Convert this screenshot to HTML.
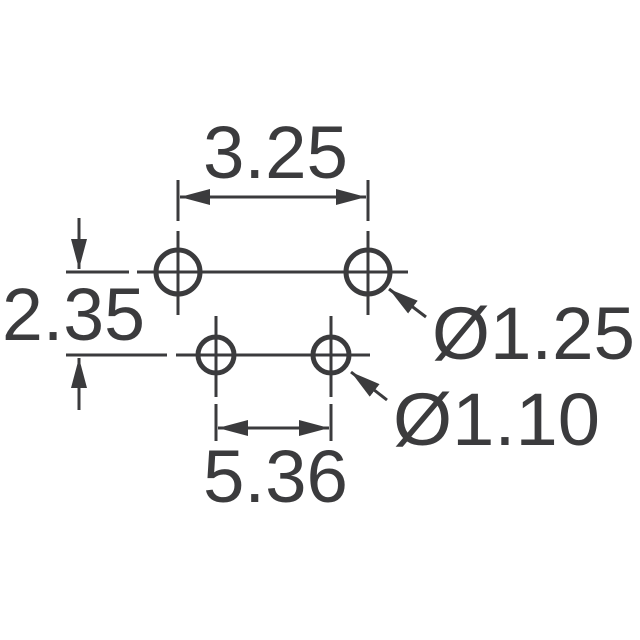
<!DOCTYPE html>
<html><head><meta charset="utf-8"><style>
html,body{margin:0;padding:0;background:#fff;}
svg{display:block;}
text{font-family:"Liberation Sans",Arial,sans-serif;font-size:74px;fill:#3b3b3d;}
</style></head><body>
<svg width="640" height="640" viewBox="0 0 640 640" xmlns="http://www.w3.org/2000/svg">
<defs>
<marker id="b" viewBox="0 0 30 16" refX="30" refY="8" markerWidth="30" markerHeight="16" markerUnits="userSpaceOnUse" orient="auto-start-reverse">
<path d="M0,0 L30,8 L0,16 z" fill="#3b3b3d"/></marker>
</defs>
<g stroke="#3b3b3d" stroke-width="3" fill="none">
<line x1="137" y1="272" x2="408" y2="272"/>
<line x1="66" y1="272" x2="129" y2="272"/>
<line x1="178" y1="180" x2="178" y2="221"/>
<line x1="178" y1="231" x2="178" y2="315"/>
<line x1="368" y1="180" x2="368" y2="221"/>
<line x1="368" y1="231" x2="368" y2="315"/>
<circle cx="178" cy="272" r="22" stroke-width="5"/>
<circle cx="368" cy="272" r="22" stroke-width="5"/>
<line x1="180" y1="197" x2="366" y2="197" marker-start="url(#b)" marker-end="url(#b)"/>
<line x1="176" y1="355" x2="370" y2="355"/>
<line x1="66" y1="355" x2="167" y2="355"/>
<line x1="216" y1="316" x2="216" y2="397"/>
<line x1="216" y1="404" x2="216" y2="441"/>
<line x1="331" y1="316" x2="331" y2="397"/>
<line x1="331" y1="404" x2="331" y2="441"/>
<circle cx="216" cy="355" r="18" stroke-width="5"/>
<circle cx="331" cy="355" r="18" stroke-width="5"/>
<line x1="218" y1="428" x2="329" y2="428" marker-start="url(#b)" marker-end="url(#b)"/>
<line x1="79" y1="218" x2="79" y2="269" marker-end="url(#b)"/>
<line x1="79" y1="410" x2="79" y2="358" marker-end="url(#b)"/>
<line x1="426" y1="317" x2="389" y2="289" marker-end="url(#b)"/>
<line x1="387" y1="400" x2="351" y2="372" marker-end="url(#b)"/>
</g>
<text x="203" y="178" textLength="145" lengthAdjust="spacingAndGlyphs">3.25</text>
<text x="2" y="340" textLength="143" lengthAdjust="spacingAndGlyphs">2.35</text>
<text x="432" y="359" textLength="203" lengthAdjust="spacingAndGlyphs">Ø1.25</text>
<text x="393" y="445" textLength="207" lengthAdjust="spacingAndGlyphs">Ø1.10</text>
<text x="203" y="502" textLength="145" lengthAdjust="spacingAndGlyphs">5.36</text>
</svg>
</body></html>
